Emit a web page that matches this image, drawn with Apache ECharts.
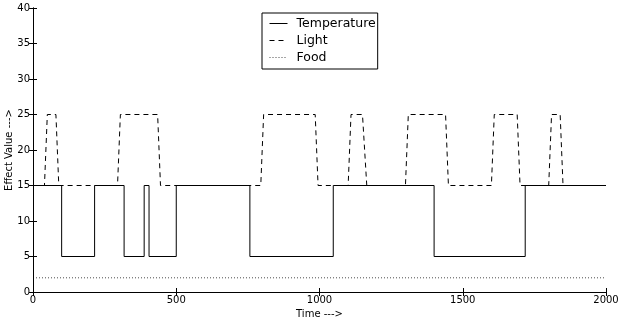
<!DOCTYPE html>
<html>
<head>
<meta charset="utf-8">
<script src="https://cdn.jsdelivr.net/npm/echarts@6/dist/echarts.min.js"></script>
<style>
  html, body { margin: 0; padding: 0; background: #fff; }
  #chart { width: 619px; height: 330px; }
</style>
</head>
<body>
<div id="chart"></div>
<script>
// temperature: level changes (step), last point closes the line at 2000
const tempX = [0, 100, 215, 318, 388, 405, 500, 757, 1048, 1400, 1718, 2000];
const tempY = [15, 5, 15, 5, 15, 5, 15, 5, 15, 5, 15, 15];

// light: sampled points, ramps take ~10 time units
const lightX = [0, 40, 50, 80, 90, 295, 305, 435, 445, 795, 805, 985, 995,
  1100, 1110, 1150, 1165, 1300, 1310, 1440, 1450, 1600, 1610, 1690, 1700,
  1800, 1810, 1840, 1850, 2000];
const lightY = [15, 15, 25, 25, 15, 15, 25, 25, 15, 15, 25, 25, 15,
  15, 25, 25, 15, 15, 25, 25, 15, 15, 25, 25, 15,
  15, 25, 25, 15, 15];

const foodX = [0, 2000];
const foodY = [2, 2];

const xTicks = [0, 500, 1000, 1500, 2000];
const yTicks = [0, 5, 10, 15, 20, 25, 30, 35, 40];

const zip = (xs, ys) => xs.map((x, i) => [x, ys[i]]);

const chart = echarts.init(document.getElementById('chart'));
const font = 'DejaVu Sans';

const tickStyle = { show: true, inside: true, length: 4, lineStyle: { color: '#000' } };
const lineAx = { show: true, lineStyle: { color: '#000', width: 1 } };

chart.setOption({
  animation: false,
  grid: { left: 33, right: 13, top: 8, bottom: 38, containLabel: false, outerBoundsMode: 'none' },
  legend: {
    orient: 'vertical',
    left: 262,
    top: 13,
    borderColor: '#000',
    borderWidth: 1,
    borderRadius: 0,
    padding: [4, 2, 5, 7],
    itemGap: 4,
    itemWidth: 18,
    itemHeight: 12,
    itemStyle: { opacity: 0 },
    lineStyle: { width: 1 },
    textStyle: { fontFamily: font, fontSize: 12.5, color: '#000', padding: [0, 0, 0, 4] },
    data: ['Temperature', 'Light', 'Food']
  },
  xAxis: [
    {
      type: 'value', min: 0, max: 2000, interval: 500,
      name: 'Time --->', nameLocation: 'middle', nameGap: 16,
      nameTextStyle: { fontFamily: font, fontSize: 10, color: '#000' },
      axisLine: lineAx, axisTick: tickStyle,
      axisLabel: { fontFamily: font, fontSize: 10, color: '#000', margin: 3,
        formatter: v => xTicks.includes(v) ? String(v) : '' },
      splitLine: { show: false }
    },
    {
      type: 'value', min: 0, max: 2000, interval: 500, position: 'top',
      axisLine: lineAx, axisTick: tickStyle, axisLabel: { show: false },
      splitLine: { show: false }
    }
  ],
  yAxis: [
    {
      type: 'value', min: 0, max: 40, interval: 5,
      name: 'Effect Value --->', nameLocation: 'middle', nameGap: 19,
      nameMoveOverlap: false,
      nameTextStyle: { fontFamily: font, fontSize: 10, color: '#000' },
      axisLine: lineAx, axisTick: tickStyle,
      axisLabel: { fontFamily: font, fontSize: 10, color: '#000', margin: 3,
        formatter: v => yTicks.includes(v) ? String(v) : '' },
      splitLine: { show: false }
    },
    {
      type: 'value', min: 0, max: 40, interval: 5, position: 'right',
      axisLine: lineAx, axisTick: tickStyle, axisLabel: { show: false },
      splitLine: { show: false }
    }
  ],
  series: [
    {
      name: 'Temperature', type: 'line', step: 'end', symbol: 'none',
      data: zip(tempX, tempY),
      lineStyle: { color: '#000', width: 1 }, itemStyle: { color: '#000' }
    },
    {
      name: 'Light', type: 'line', symbol: 'none',
      data: zip(lightX, lightY),
      lineStyle: { color: '#000', width: 1, type: [5, 4] }, itemStyle: { color: '#000' }
    },
    {
      name: 'Food', type: 'line', symbol: 'none',
      data: zip(foodX, foodY),
      lineStyle: { color: '#000', width: 1, type: [1, 2], opacity: 0.7 }, itemStyle: { color: '#000' }
    }
  ]
});
</script>
</body>
</html>
